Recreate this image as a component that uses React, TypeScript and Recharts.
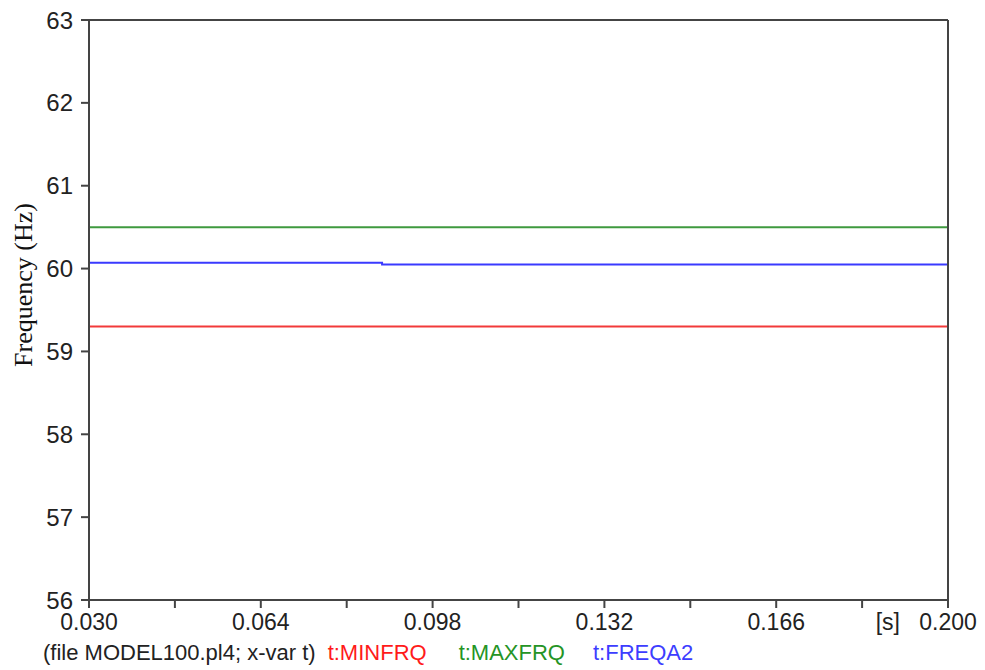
import { FC } from 'react'
import { LineChart, Line, XAxis, YAxis } from 'recharts'

const times = [0.03, 0.088, 0.2]
const minFrq = [59.3, 59.3, 59.3]
const maxFrq = [60.5, 60.5, 60.5]
const freqA2 = [60.07, 60.05, 60.05]

const xTicks = [0.03, 0.047, 0.064, 0.081, 0.098, 0.115, 0.132, 0.149, 0.166, 0.183, 0.2]
const xLabels = ['0.030', '', '0.064', '', '0.098', '', '0.132', '', '0.166', '', '0.200']
const yTicks = [56, 57, 58, 59, 60, 61, 62, 63]

const series = [
  { key: 'min', name: 't:MINFRQ', color: '#f23a3a', text: '#ff1a1a', gap: 12 },
  { key: 'max', name: 't:MAXFRQ', color: '#3f9a3f', text: '#259425', gap: 32 },
  { key: 'fa2', name: 't:FREQA2', color: '#3a3aff', text: '#3d3dff', gap: 28 }
]

const data = times.map((t, i) => ({ t, min: minFrq[i], max: maxFrq[i], fa2: freqA2[i] }))

const XTick = ({ x, y, payload, index }: any) => {
  const label = xLabels[index] ?? ''
  const last = index === xTicks.length - 1
  return (
    <g transform={`translate(${x},${y})`}>
      <text x={0} y={0} dy={20} textAnchor="middle" fill="#222" fontSize={23} fontFamily="Liberation Sans, Arial">
        {label}
      </text>
      {last && (
        <text x={-48} y={0} dy={20} textAnchor="end" fill="#222" fontSize={23} fontFamily="Liberation Sans, Arial">
          [s]
        </text>
      )}
    </g>
  )
}

const App: FC = () => {
  return (
    <div style={{ position: 'absolute', left: 0, top: 0, width: 985, height: 670, background: '#fff' }}>
      <LineChart width={985} height={670} data={data} margin={{ top: 19, right: 36, left: 0, bottom: 0 }}>
        <XAxis
          dataKey="t"
          type="number"
          domain={[0.03, 0.2]}
          ticks={xTicks}
          interval={0}
          height={70}
          stroke="#444"
          strokeWidth={2}
          tickSize={8}
          tick={<XTick />}
        />
        <XAxis xAxisId="top" orientation="top" dataKey="t" type="number" domain={[0.03, 0.2]} height={1} tick={false} tickLine={false} stroke="#444" strokeWidth={2} />
        <YAxis
          type="number"
          domain={[56, 63]}
          ticks={yTicks}
          interval={0}
          width={89}
          stroke="#444"
          strokeWidth={2}
          tickSize={8}
          tickMargin={8}
          tick={{ fill: '#222', fontSize: 24, fontFamily: 'Liberation Sans, Arial' }}
          label={{
            value: 'Frequency (Hz)',
            angle: -90,
            position: 'insideLeft',
            dx: 18,
            dy: -25,
            style: { fill: '#111', fontSize: 26, fontFamily: 'Liberation Serif, serif', textAnchor: 'middle' }
          }}
        />
        <YAxis yAxisId="right" orientation="right" domain={[56, 63]} width={1} tick={false} tickLine={false} stroke="#444" strokeWidth={2} />
        {series.map((s) => (
          <Line
            key={s.key}
            type="stepAfter"
            dataKey={s.key}
            stroke={s.color}
            strokeWidth={2}
            dot={false}
            isAnimationActive={false}
          />
        ))}
      </LineChart>
      <div
        style={{
          position: 'absolute',
          left: 43,
          top: 640,
          fontFamily: 'Liberation Sans, Arial',
          fontSize: 22,
          color: '#222',
          whiteSpace: 'pre'
        }}
      >
        <span>(file MODEL100.pl4; x-var t)</span>
        {series.map((s) => (
          <span key={s.key} style={{ color: s.text, marginLeft: s.gap }}>
            {s.name}
          </span>
        ))}
      </div>
    </div>
  )
}

export default App
